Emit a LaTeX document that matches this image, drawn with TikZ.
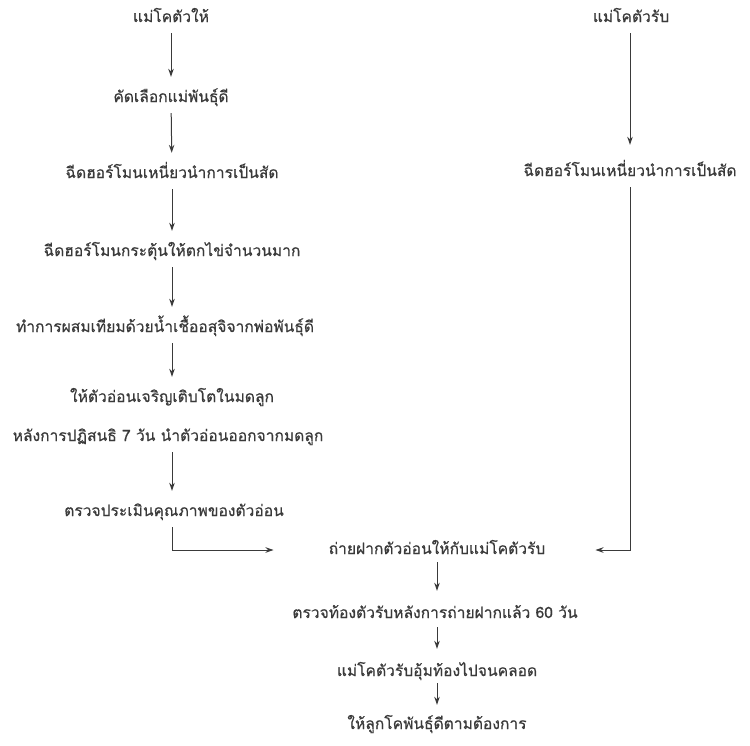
\documentclass[tikz,border=0pt]{standalone}
\usepackage{fontspec}
\newfontfamily\thaifont[Script=Thai,FakeBold=0.6]{Loma}
\usetikzlibrary{arrows.meta}
\definecolor{ink}{HTML}{3A3A3A}
\tikzset{
  lbl/.style={inner xsep=0pt, inner ysep=9pt, text height=10pt, text depth=2pt, text=ink, font=\thaifont\fontsize{15.6}{17}\selectfont},
  arr/.style={draw=ink, line width=1pt, -{Stealth[length=8pt,width=5.5pt]}, shorten >=6pt}
}
\begin{document}
\begin{tikzpicture}[x=1pt,y=-1pt]
\useasboundingbox (0,0) rectangle (750,745);
% left column
\node[lbl] (L1) at (171,18) {แม่โคตัวให้};
\node[lbl] (L2) at (171,98) {คัดเลือกแม่พันธุ์ดี};
\node[lbl] (L3) at (172,174) {ฉีดฮอร์โมนเหนี่ยวนำการเป็นสัด};
\node[lbl] (L4) at (172,252) {ฉีดฮอร์โมนกระตุ้นให้ตกไข่จำนวนมาก};
\node[lbl] (L5) at (165,328) {ทำการผสมเทียมด้วยน้ำเชื้ออสุจิจากพ่อพันธุ์ดี};
\node[lbl] (L6) at (172,398) {ให้ตัวอ่อนเจริญเติบโตในมดลูก};
\node[lbl] (L7) at (168,437) {หลังการปฏิสนธิ 7 วัน นำตัวอ่อนออกจากมดลูก};
\node[lbl] (L8) at (174,512) {ตรวจประเมินคุณภาพของตัวอ่อน};
% right column
\node[lbl] (R1) at (631,18) {แม่โคตัวรับ};
\node[lbl] (R2) at (630,172) {ฉีดฮอร์โมนเหนี่ยวนำการเป็นสัด};
% bottom
\node[lbl] (B1) at (437,550) {ถ่ายฝากตัวอ่อนให้กับแม่โคตัวรับ};
\node[lbl] (B2) at (435,614) {ตรวจท้องตัวรับหลังการถ่ายฝากแล้ว 60 วัน};
\node[lbl] (B3) at (437,672) {แม่โคตัวรับอุ้มท้องไปจนคลอด};
\node[lbl] (B4) at (437,725) {ให้ลูกโคพันธุ์ดีตามต้องการ};
% connectors
\draw[arr] (L1) -- (L2);
\draw[arr] (L2) -- (L3);
\draw[arr] (L3) -- (L4);
\draw[arr] (L4.south -| L3) -- (L5.north -| L3);
\draw[arr] (L5.south -| L3) -- (L6.north -| L3);
\draw[arr] (L7.south -| L3) -- (L8.north -| L3);
\draw[arr, shorten >=55pt] (L8.south -| L3) |- (B1.west);
\draw[arr, shorten >=12pt] (R1.south -| R2) -- (R2.north);
\draw[arr, shorten >=50pt] (R2.south) |- (B1.east);
\draw[arr, shorten >=8pt] (B1.south) ++(0,-3) -- (B2.north -| B1);
\draw[arr, shorten >=8pt] (B2.south -| B1) ++(0,-2) -- (B3.north);
\draw[arr, shorten >=5pt] (B3.south) ++(0,-4) -- (B4.north);
\end{tikzpicture}
\end{document}
